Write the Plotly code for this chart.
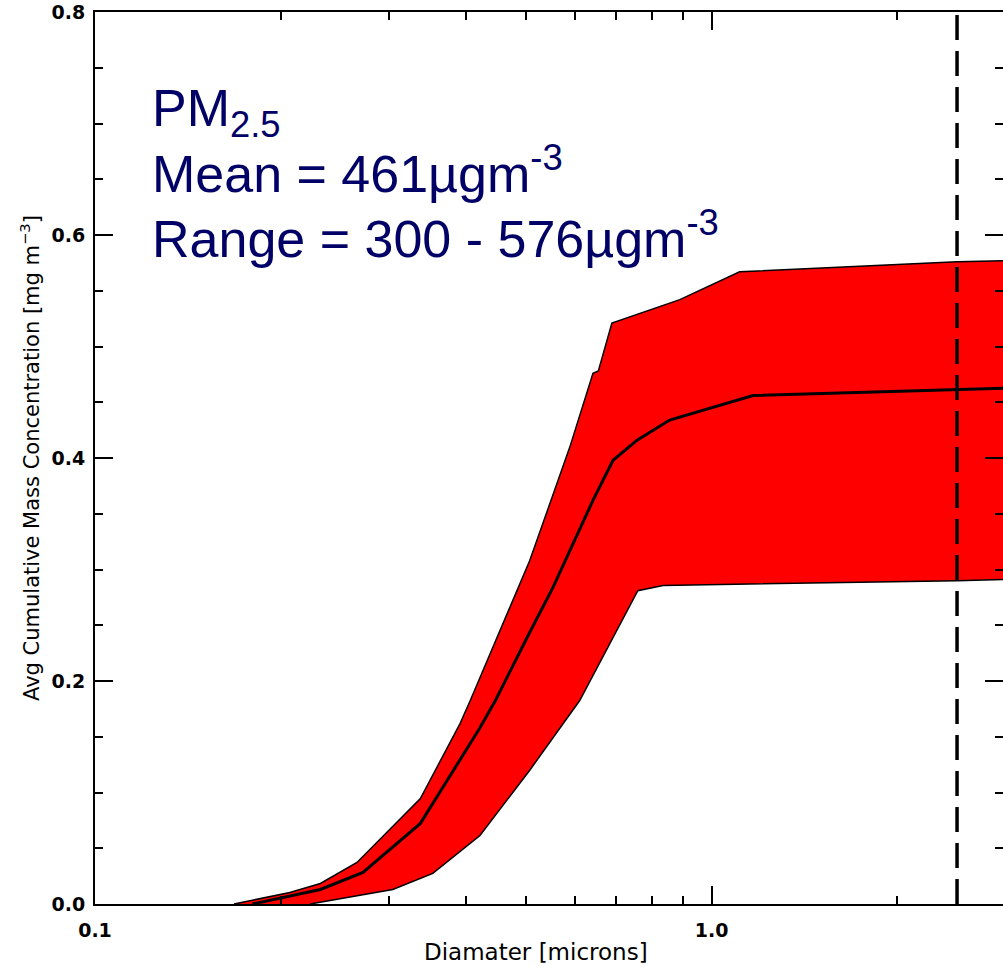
import math
import plotly.graph_objects as go

# ---- data ----
upper_x = [0.168, 0.207, 0.232, 0.266, 0.337, 0.391, 0.406, 0.507, 0.589, 0.642, 0.655, 0.689, 0.888, 1.11, 2.5, 2.97]
upper_y = [0.0, 0.0103, 0.0184, 0.0372, 0.0946, 0.162, 0.1825, 0.308, 0.410, 0.476, 0.478, 0.521, 0.542, 0.567, 0.576, 0.577]

mean_x = [0.180, 0.232, 0.272, 0.337, 0.421, 0.446, 0.502, 0.553, 0.642, 0.692, 0.757, 0.855, 1.167, 2.5, 2.97]
mean_y = [0.0, 0.013, 0.0283, 0.0723, 0.158, 0.1825, 0.239, 0.284, 0.362, 0.398, 0.416, 0.434, 0.456, 0.461, 0.4625]

lower_x = [0.2233, 0.304, 0.353, 0.421, 0.507, 0.611, 0.759, 0.834, 2.5, 2.97]
lower_y = [0.0, 0.013, 0.0274, 0.0614, 0.120, 0.1825, 0.281, 0.2857, 0.290, 0.291]

cutoff = 2.5
x_range = [0.1, 2.968]
y_range = [0.0, 0.8]
x_major = [0.1, 1.0]
x_major_text = ["0.1", "1.0"]
x_minor = [0.2, 0.3, 0.4, 0.5, 0.6, 0.7, 0.8, 0.9, 2.0]
y_major = [0.0, 0.2, 0.4, 0.6, 0.8]
y_major_text = ["0.0", "0.2", "0.4", "0.6", "0.8"]

RED = "#ff0000"
NAVY = "#000066"
TICKFONT = dict(family="DejaVu Sans", size=19, color="black", weight="bold")

fig = go.Figure()

# red band polygon
fig.add_trace(go.Scatter(
    x=upper_x + lower_x[::-1], y=upper_y + lower_y[::-1],
    fill="toself", fillcolor=RED, mode="lines", line=dict(width=0),
    showlegend=False, hoverinfo="skip"))
# band outlines
fig.add_trace(go.Scatter(x=upper_x, y=upper_y, mode="lines",
                         line=dict(color="black", width=1.5), showlegend=False))
fig.add_trace(go.Scatter(x=lower_x, y=lower_y, mode="lines",
                         line=dict(color="black", width=1.5), showlegend=False))
# mean
fig.add_trace(go.Scatter(x=mean_x, y=mean_y, mode="lines",
                         line=dict(color="black", width=3), showlegend=False))
# dummy for right axis
fig.add_trace(go.Scatter(x=mean_x[:1], y=mean_y[:1], yaxis="y2", mode="none",
                         showlegend=False, hoverinfo="skip"))

# dashed PM2.5 cutoff
fig.add_shape(type="line", x0=cutoff, x1=cutoff, y0=0, y1=0.8, xref="x", yref="y",
              line=dict(color="black", width=3.5, dash="25px,11px"))

fig.update_layout(
    width=1003, height=966,
    margin=dict(l=95, r=0, t=12, b=62),
    paper_bgcolor="white", plot_bgcolor="white",
    showlegend=False,
    xaxis=dict(type="log", range=[math.log10(x_range[0]), math.log10(x_range[1])],
               tickvals=x_major, ticktext=x_major_text,
               ticks="inside", ticklen=18, tickwidth=2, tickcolor="black",
               showline=True, linecolor="black", linewidth=2, mirror="ticks",
               showgrid=False, zeroline=False, tickfont=TICKFONT, ticklabelstandoff=8,
               minor=dict(tickvals=x_minor, ticks="inside", ticklen=8, tickwidth=1.5,
                          tickcolor="black", showgrid=False)),
    yaxis=dict(range=y_range, tickvals=y_major, ticktext=y_major_text,
               ticks="inside", ticklen=18, tickwidth=2, tickcolor="black",
               showline=True, linecolor="black", linewidth=2, mirror=False,
               showgrid=False, zeroline=False, tickfont=TICKFONT, ticklabelstandoff=4,
               minor=dict(dtick=0.05, ticks="inside", ticklen=8, tickwidth=1.5,
                          tickcolor="black", showgrid=False)),
    yaxis2=dict(range=y_range, overlaying="y", side="right", tickvals=y_major,
                showticklabels=False, ticks="inside", ticklen=18, tickwidth=2,
                tickcolor="black", showline=False, showgrid=False, zeroline=False,
                minor=dict(dtick=0.05, ticks="inside", ticklen=8, tickwidth=1.5,
                           tickcolor="black", showgrid=False)),
)

def px(xp):
    return (xp - 95) / 908.0

def py(yp):
    return (904 - yp) / 892.0

TXT = dict(family="Liberation Sans, Arial", size=52, color=NAVY)
fig.add_annotation(text="PM<sub>2.5</sub>", x=px(150), y=py(112), xref="paper", yref="paper",
                   xanchor="left", yanchor="middle", showarrow=False, font=TXT)
fig.add_annotation(text="Mean = 461µgm<sup>-3</sup>", x=px(150), y=py(170), xref="paper", yref="paper",
                   xanchor="left", yanchor="middle", showarrow=False, font=TXT)
fig.add_annotation(text="Range = 300 - 576µgm<sup>-3</sup>", x=px(150), y=py(235), xref="paper", yref="paper",
                   xanchor="left", yanchor="middle", showarrow=False, font=TXT)

fig.add_annotation(text="Avg Cumulative Mass Concentration [mg m<sup>−3</sup>]",
                   x=px(30), y=0.5, xref="paper", yref="paper", textangle=-90,
                   xanchor="center", yanchor="middle", showarrow=False,
                   font=dict(family="DejaVu Sans", size=21, color="black"))
fig.add_annotation(text="Diamater [microns]", x=px(536), y=py(952), xref="paper", yref="paper",
                   xanchor="center", yanchor="middle", showarrow=False,
                   font=dict(family="DejaVu Sans", size=23, color="black"))

fig.write_html("out.html")
